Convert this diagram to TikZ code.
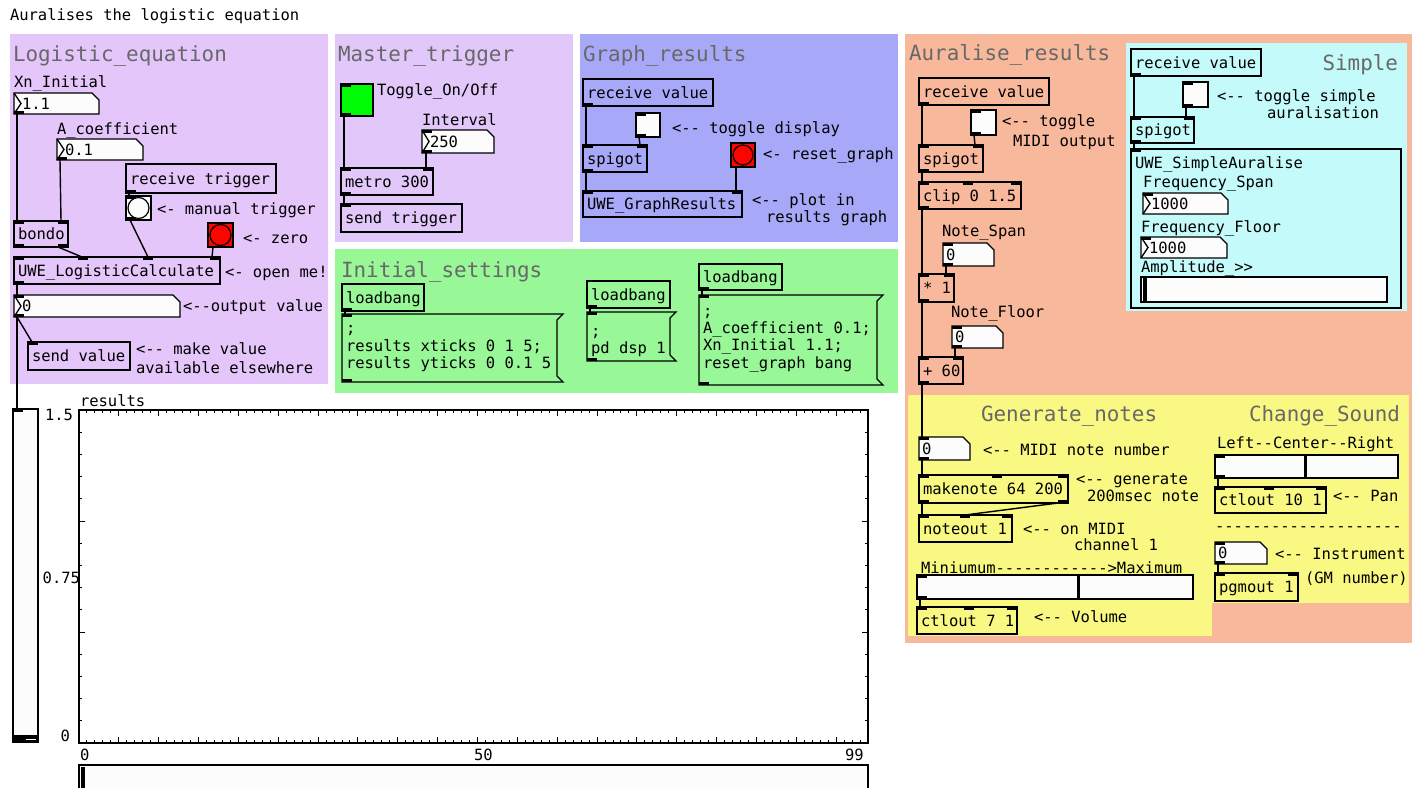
\documentclass[tikz,border=0pt]{standalone}
\usepackage{fontspec}
\newfontfamily\pdfont{DejaVu Sans Mono}[Ligatures=TeXOff]
\usetikzlibrary{calc}
\definecolor{lav}{HTML}{E4C6FA}
\definecolor{lavb}{HTML}{E2C8FA}
\definecolor{peri}{HTML}{A8A8F8}
\definecolor{mint}{HTML}{98F898}
\definecolor{salmon}{HTML}{F8B89C}
\definecolor{cyanp}{HTML}{C4FAFA}
\definecolor{yel}{HTML}{F8F882}
\definecolor{numwhite}{HTML}{FCFCFC}
\definecolor{tglgreen}{HTML}{00FC04}
\definecolor{bngred}{HTML}{FC0400}
\definecolor{hdrgray}{HTML}{686868}
\tikzset{
 pdbox/.style={draw=black,line width=1.3pt,rectangle,inner sep=0pt,outer sep=0pt},
 bare/.style={rectangle,inner sep=0pt,outer sep=0pt},
 pdt/.style={font=\pdfont\fontsize{15.5}{17}\selectfont,inner sep=0pt,outer sep=0pt,text=black},
 hdr/.style={font=\pdfont\fontsize{20.9}{24}\selectfont,inner sep=0pt,outer sep=0pt,text=hdrgray},
 wire/.style={line width=1.4pt,draw=black},
 numsh/.style={draw=black,line width=1.3pt,fill=numwhite,line join=miter},
 panelbg/.style={rectangle,inner sep=0pt,outer sep=0pt,draw=none},
 tick/.style={line width=1pt,draw=black},
}
\newcommand\pdpanel[6]{%
 \pgfmathsetmacro\pdW{#4-#2}\pgfmathsetmacro\pdH{#5-#3}%
 \node[panelbg,fill=#6,minimum width=\pdW pt,minimum height=\pdH pt,anchor=north west] (#1) at (#2,#3) {};}
\newcommand\pdobj[6]{%
 \pgfmathsetmacro\pdW{#4-#2}\pgfmathsetmacro\pdH{#5-#3}%
 \node[pdbox,minimum width=\pdW pt,minimum height=\pdH pt,anchor=north west] (#1) at (#2,#3) {};%
 \node[pdt,anchor=base west] (#1-t) at ($(#1.west)+(4,5.5)$) {#6};}
\newcommand\pdnum[7]{%
 \pgfmathsetmacro\pdW{#4-#2}\pgfmathsetmacro\pdH{#5-#3}%
 \node[bare,minimum width=\pdW pt,minimum height=\pdH pt,anchor=north west] (#1) at (#2,#3) {};%
 \filldraw[numsh] (#1.north west) -- ([xshift=-7pt]#1.north east) -- ([yshift=-7pt]#1.north east) -- (#1.south east) -- (#1.south west) -- cycle;%
 \ifnum#7=1
  \draw[numsh,fill=none] (#1.north west) -- ([xshift=7pt]#1.west) -- (#1.south west);%
  \node[pdt,anchor=base west] (#1-t) at ($(#1.west)+(8,5.5)$) {#6};%
 \else
  \node[pdt,anchor=base west] (#1-t) at ($(#1.west)+(3,5.5)$) {#6};%
 \fi}
\newcommand\pdtgl[6]{%
 \pgfmathsetmacro\pdW{#4-#2}\pgfmathsetmacro\pdH{#5-#3}%
 \node[pdbox,fill=#6,minimum width=\pdW pt,minimum height=\pdH pt,anchor=north west] (#1) at (#2,#3) {};}
\newcommand\pdbng[6]{%
 \pgfmathsetmacro\pdW{#4-#2}\pgfmathsetmacro\pdH{#5-#3}\pgfmathsetmacro\pdR{(#4-#2)/2-2}%
 \node[pdbox,fill=#6,minimum width=\pdW pt,minimum height=\pdH pt,anchor=north west] (#1) at (#2,#3) {};%
 \draw[line width=1.2pt] (#1.center) circle (\pdR pt);}
\newcommand\pdmsg[5]{%
 \pgfmathsetmacro\pdW{#4-#2}\pgfmathsetmacro\pdH{#5-#3}%
 \node[bare,minimum width=\pdW pt,minimum height=\pdH pt,anchor=north west] (#1) at (#2,#3) {};%
 \draw[line width=1.3pt,line join=miter] ([xshift=6pt]#1.north east) -- (#1.north west) -- (#1.south west) -- ([xshift=6pt]#1.south east) -- ([yshift=6pt]#1.south east) -- ([yshift=-6pt]#1.north east) -- cycle;}
\newcommand\pdhsl[6]{%
 \pgfmathsetmacro\pdW{#4-#2}\pgfmathsetmacro\pdH{#5-#3}%
 \node[pdbox,fill=numwhite,minimum width=\pdW pt,minimum height=\pdH pt,anchor=north west] (#1) at (#2,#3) {};%
 \fill (#6,{#3+1}) rectangle ({#6+3.5},{#5-1});}
\newcommand\pdin[2]{\fill ($(#1.north west)+(#2,0)$) rectangle ++(10,3);}
\newcommand\pdinr[1]{\fill ($(#1.north east)+(-10,0)$) rectangle ++(10,3);}
\newcommand\pdout[2]{\fill ($(#1.south west)+(#2,0)$) rectangle ++(10,-3);}
\newcommand\pdoutr[1]{\fill ($(#1.south east)+(-10,0)$) rectangle ++(10,-3);}
\newcommand\wire[4]{\draw[wire] ($(#1.south west)+(#2,0)$) -- ($(#3.north west)+(#4,0)$);}
\newcommand\pdline[4]{\node[pdt,anchor=base west] (#1) at (#2,#3) {#4};}
\newcommand\pdhdr[4]{\node[hdr,anchor=base west] (#1) at (#2,#3) {#4};}
\begin{document}
\begin{tikzpicture}[x=1pt,y=-1pt]
\useasboundingbox (0,0) rectangle (1420,787);
\fill[white] (0,0) rectangle (1420,787);
% panels
\pdpanel{pLog}{10}{34}{328}{384}{lav}
\pdpanel{pMas}{335}{34}{573}{242}{lavb}
\pdpanel{pGra}{580}{34}{898}{242}{peri}
\pdpanel{pIni}{335}{249}{898}{393}{mint}
\pdpanel{pAur}{905}{34}{1412}{643}{salmon}
\pdpanel{pSim}{1126}{43}{1407}{311}{cyanp}
\pdpanel{pGen}{908}{395}{1212}{636}{yel}
\pdpanel{pChg}{1210}{395}{1409}{603}{yel}
% title
\pdline{title}{10}{20.5}{Auralises the logistic equation}
% headers
\pdhdr{hLog}{13}{61.5}{Logistic\_equation}
\pdhdr{hMas}{338}{61.5}{Master\_trigger}
\pdhdr{hGra}{583}{61.5}{Graph\_results}
\pdhdr{hIni}{341}{277}{Initial\_settings}
\pdhdr{hAur}{909}{60}{Auralise\_results}
\node[hdr,anchor=base east] (hSim) at (1398,70) {Simple};
\pdhdr{hGen}{981}{421}{Generate\_notes}
\node[hdr,anchor=base east] (hChg) at (1400,421.5) {Change\_Sound};
% ===== Logistic_equation
\pdline{lXn}{14}{87.5}{Xn\_Initial}
\pdnum{xn}{14}{93}{99}{114}{1.1}{1}
\pdline{lA}{57}{134}{A\_coefficient}
\pdnum{acoef}{57}{139}{143}{160}{0.1}{1}
\pdobj{rtrig}{126}{164}{276}{193}{receive trigger}
\pdbng{mbang}{126}{196}{151}{220}{numwhite}
\pdline{lMan}{157}{214}{<- manual trigger}
\pdbng{zbang}{208}{223}{233}{247}{bngred}
\pdline{lZero}{243}{243}{<- zero}
\pdobj{bondo}{14}{221}{68}{247}{bondo}
\pdobj{ulc}{14}{257}{220}{284}{UWE\_LogisticCalculate}
\pdline{lOpen}{225}{277}{<- open me!}
\pdnum{outnum}{14}{295}{180}{317}{0}{1}
\pdline{lOut}{183}{311}{<--output value}
\pdobj{sendv}{28}{342}{130}{370}{send value}
\pdline{lMake}{136}{354}{<-- make value}
\pdline{lAvail}{136}{373}{available elsewhere}
\pdout{xn}{0}\pdout{acoef}{0}\pdout{rtrig}{0}
\pdin{mbang}{0}\pdout{mbang}{0}
\pdin{bondo}{0}\pdinr{bondo}\pdout{bondo}{0}\pdoutr{bondo}
\pdin{ulc}{0}\pdin{ulc}{64}\pdin{ulc}{129}\pdinr{ulc}\pdout{ulc}{0}
\pdin{outnum}{0}\pdout{outnum}{0}\pdin{sendv}{0}
\wire{xn}{3}{bondo}{3}
\wire{acoef}{3}{bondo}{47}
\wire{rtrig}{3}{mbang}{3}
\wire{mbang}{4}{ulc}{134}
\wire{zbang}{5}{ulc}{198}
\wire{bondo}{44}{ulc}{68}
\wire{ulc}{3}{outnum}{3}
\wire{outnum}{3}{sendv}{4}
% vertical slider and graph
\node[pdbox,fill=numwhite,minimum width=25pt,minimum height=333pt,anchor=north west] (vsl) at (13,409) {};
\fill (13,734.5) rectangle (38,742);
\draw[white,line width=1.1pt] (26,739.5) -- (36,739.5);
\pdin{vsl}{0}
\wire{outnum}{3}{vsl}{4}
\pdline{lRes}{80}{406}{results}
\node[pdbox,fill=white,minimum width=789pt,minimum height=333pt,anchor=north west] (graph) at (79,410) {};
\draw[line width=2pt] (graph.south west) -- (graph.south east);
\foreach \i in {0,...,99}{
  \pgfmathsetmacro\tx{79+\i*7.97}
  \pgfmathsetmacro\tl{ifthenelse(mod(\i,5)==0,6,3)}
  \draw[tick] (\tx,743) -- (\tx,{743-\tl});
  \draw[tick] (\tx,410) -- (\tx,{410+\tl});
}
\foreach \j in {0,...,15}{
  \pgfmathsetmacro\ty{743-\j*22.2}
  \pgfmathsetmacro\tl{ifthenelse(mod(\j,5)==0,6,3)}
  \draw[tick] (79,\ty) -- ({79+\tl},\ty);
  \draw[tick] (868,\ty) -- ({868-\tl},\ty);
}
\node[pdt,anchor=base east] (y15) at (73,420.5) {1.5};
\node[pdt,anchor=base east] (y075) at (80,583) {0.75};
\node[pdt,anchor=base east] (y0) at (70,741) {0};
\pdline{x0}{80}{760}{0}
\pdline{x50}{474}{760}{50}
\pdline{x99}{845}{760}{99}
\node[pdbox,fill=numwhite,minimum width=789pt,minimum height=35pt,anchor=north west] (hsl) at (79,765) {};
\fill (80.5,766.5) rectangle (85,790);
% ===== Master_trigger
\pdtgl{tgl1}{341}{84}{373}{116}{tglgreen}
\pdline{lTog}{377}{95.5}{Toggle\_On/Off}
\pdline{lInt}{422}{125.5}{Interval}
\pdnum{intv}{422}{130}{494}{153}{250}{1}
\pdobj{metro}{341}{168}{433}{195}{metro 300}
\pdobj{strig}{341}{204}{462}{232}{send trigger}
\pdin{tgl1}{0}\pdout{tgl1}{0}\pdin{intv}{0}\pdout{intv}{0}
\pdin{metro}{0}\pdinr{metro}\pdout{metro}{0}\pdin{strig}{0}
\wire{tgl1}{3}{metro}{3}
\wire{intv}{4}{metro}{85}
\wire{metro}{3}{strig}{3}
% ===== Graph_results
\pdobj{rv1}{583}{79}{713}{106}{receive value}
\pdtgl{tgl2}{636}{113}{660}{137}{numwhite}
\pdline{lTd}{672}{133.5}{<-- toggle display}
\pdobj{spg1}{583}{145}{647}{172}{spigot}
\pdbng{rbang}{731}{143}{755}{167}{bngred}
\pdline{lRg}{763}{159.5}{<- reset\_graph}
\pdobj{ugr}{583}{191}{742}{217}{UWE\_GraphResults}
\pdline{lPlot}{752}{205.5}{<-- plot in}
\pdline{lRgr}{766}{222.5}{results graph}
\pdout{rv1}{0}\pdin{tgl2}{0}\pdout{tgl2}{0}
\pdin{spg1}{0}\pdinr{spg1}\pdout{spg1}{0}
\pdin{ugr}{0}\pdinr{ugr}
\wire{rv1}{3}{spg1}{3}
\wire{tgl2}{3}{spg1}{57}
\wire{spg1}{3}{ugr}{3}
\wire{rbang}{5}{ugr}{153}
% ===== Initial_settings
\pdobj{lb1}{342}{284}{424}{311}{loadbang}
\pdmsg{msg1}{342}{314}{557}{382}
\pdline{m1a}{346}{333}{;}
\pdline{m1b}{346}{351}{results xticks 0 1 5;}
\pdline{m1c}{346}{368.5}{results yticks 0 0.1 5}
\pdobj{lb2}{587}{281}{670}{308}{loadbang}
\pdmsg{msg2}{587}{312}{670}{361}
\pdline{m2a}{591}{336}{;}
\pdline{m2b}{591}{353}{pd dsp 1}
\pdobj{lb3}{699}{264}{782}{290}{loadbang}
\pdmsg{msg3}{699}{295}{877}{385}
\pdline{m3a}{703}{316}{;}
\pdline{m3b}{703}{333}{A\_coefficient 0.1;}
\pdline{m3c}{703}{350.5}{Xn\_Initial 1.1;}
\pdline{m3d}{703}{368}{reset\_graph bang}
\pdout{lb1}{0}\pdin{msg1}{0}\pdout{msg1}{0}
\pdout{lb2}{0}\pdin{msg2}{0}\pdout{msg2}{0}
\pdout{lb3}{0}\pdin{msg3}{0}\pdout{msg3}{0}
\wire{lb1}{3}{msg1}{3}
\wire{lb2}{3}{msg2}{3}
\wire{lb3}{3}{msg3}{3}
% ===== Auralise_results
\pdobj{rv2}{919}{78}{1049}{105}{receive value}
\pdtgl{tgl3}{971}{110}{996}{135}{numwhite}
\pdline{lTm}{1002}{126.5}{<-- toggle}
\pdline{lMo}{1013}{146.5}{MIDI output}
\pdobj{spg2}{919}{145}{983}{172}{spigot}
\pdobj{clip}{919}{182}{1021}{209}{clip 0 1.5}
\pdline{lNs}{942}{236}{Note\_Span}
\pdnum{nspan}{943}{243}{994}{266}{0}{0}
\pdobj{mul}{919}{274}{954}{302}{* 1}
\pdline{lNf}{951}{317.5}{Note\_Floor}
\pdnum{nfloor}{952}{326}{1003}{348}{0}{0}
\pdobj{add}{919}{357}{963}{384}{+ 60}
\pdout{rv2}{0}\pdin{tgl3}{0}\pdout{tgl3}{0}
\pdin{spg2}{0}\pdinr{spg2}\pdout{spg2}{0}
\pdin{clip}{0}\pdin{clip}{44}\pdinr{clip}\pdout{clip}{0}
\pdin{nspan}{0}\pdout{nspan}{0}
\pdin{mul}{0}\pdinr{mul}\pdout{mul}{0}
\pdin{nfloor}{0}\pdout{nfloor}{0}
\pdin{add}{0}\pdinr{add}\pdout{add}{0}
\wire{rv2}{3}{spg2}{3}
\wire{tgl3}{3}{spg2}{56}
\wire{spg2}{3}{clip}{3}
\wire{clip}{3}{mul}{3}
\wire{nspan}{3}{mul}{27}
\wire{mul}{3}{add}{3}
\wire{nfloor}{3}{add}{36}
% ===== Simple
\pdobj{rv3}{1131}{49}{1261}{76}{receive value}
\pdtgl{tgl4}{1183}{82}{1208}{107}{numwhite}
\pdline{lTs}{1217}{101}{<-- toggle simple}
\pdline{lAur}{1267}{118.5}{auralisation}
\pdobj{spg3}{1131}{117}{1194}{143}{spigot}
\node[pdbox,minimum width=270pt,minimum height=159pt,anchor=north west] (gop) at (1131,149) {};
\pdline{lUsa}{1135}{168}{UWE\_SimpleAuralise}
\pdline{lFs}{1143}{187}{Frequency\_Span}
\pdnum{fspan}{1143}{193}{1228}{214}{1000}{1}
\pdline{lFf}{1141}{232}{Frequency\_Floor}
\pdnum{ffloor}{1141}{237}{1227}{258}{1000}{1}
\pdline{lAmp}{1141}{272}{Amplitude\_>>}
\pdhsl{amp}{1141}{277}{1387}{302}{1143}
\pdout{rv3}{0}\pdin{tgl4}{0}\pdout{tgl4}{0}
\pdin{spg3}{0}\pdinr{spg3}\pdout{spg3}{0}\pdin{gop}{0}
\pdin{fspan}{0}\pdin{ffloor}{0}
\wire{rv3}{3}{spg3}{3}
\wire{tgl4}{3}{spg3}{55}
\wire{spg3}{3}{gop}{3}
% ===== Generate_notes
\pdnum{midi}{919}{437}{970}{460}{0}{0}
\pdline{lMidi}{983}{455}{<-- MIDI note number}
\pdobj{mk}{919}{475}{1068}{503}{makenote 64 200}
\pdline{lGen}{1076}{484}{<-- generate}
\pdline{lMs}{1087}{501}{200msec note}
\pdobj{nout}{919}{515}{1012}{542}{noteout 1}
\pdline{lOn}{1023}{534}{<-- on MIDI}
\pdline{lCh}{1074}{550}{channel 1}
\pdline{lMin}{921}{573}{Miniumum------------>Maximum}
\pdhsl{vol}{917}{575}{1193}{599}{1076.5}
\pdobj{ctl7}{917}{607}{1017}{634}{ctlout 7 1}
\pdline{lVol}{1034}{622}{<-- Volume}
\pdin{midi}{0}\pdout{midi}{0}
\pdin{mk}{0}\pdin{mk}{73}\pdinr{mk}\pdout{mk}{0}\pdoutr{mk}
\pdin{nout}{0}\pdin{nout}{41}\pdinr{nout}
\pdin{vol}{0}\pdout{vol}{0}
\pdin{ctl7}{0}\pdin{ctl7}{47}\pdinr{ctl7}
\wire{add}{3}{midi}{3}
\wire{midi}{3}{mk}{3}
\wire{mk}{3}{nout}{3}
\wire{mk}{139}{nout}{46}
\wire{vol}{3}{ctl7}{3}
% ===== Change_Sound
\pdline{lLcr}{1217}{448.5}{Left--Center--Right}
\pdhsl{pan}{1215}{455}{1398}{478}{1303.5}
\pdobj{ctl10}{1215}{487}{1326}{513}{ctlout 10 1}
\pdline{lPan}{1333}{501}{<-- Pan}
\pdline{lDash}{1215}{531}{--------------------}
\pdnum{inst}{1215}{542}{1267}{564}{0}{0}
\pdline{lIns}{1275}{559.5}{<-- Instrument}
\pdline{lGm}{1305}{583}{(GM number)}
\pdobj{pgm}{1215}{573}{1298}{601}{pgmout 1}
\pdin{pan}{0}\pdout{pan}{0}
\pdin{ctl10}{0}\pdin{ctl10}{49}\pdinr{ctl10}
\pdin{inst}{0}\pdout{inst}{0}
\pdin{pgm}{0}\pdinr{pgm}
\wire{pan}{3}{ctl10}{3}
\wire{inst}{3}{pgm}{3}
\end{tikzpicture}
\end{document}
